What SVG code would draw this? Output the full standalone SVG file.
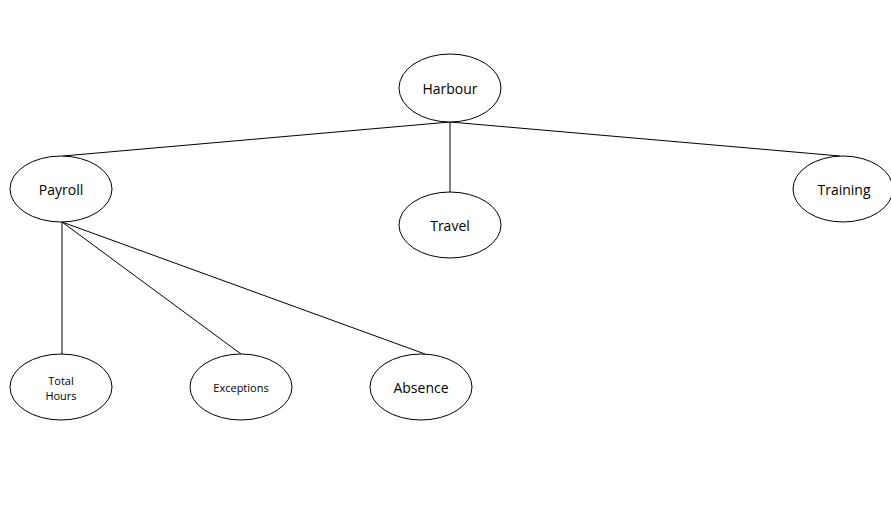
<svg xmlns="http://www.w3.org/2000/svg" width="891" height="518" viewBox="0 0 891 518">
<style>
.n ellipse{fill:#fff;stroke:#000;stroke-width:1}
.n text{font-family:"Open Sans","Liberation Sans",sans-serif;font-size:14px;fill:#000;text-anchor:middle;dominant-baseline:central}
.n text.s{font-size:11px}
#edges line{stroke:#000;stroke-width:1}
</style>
<rect width="891" height="518" fill="#fff"/>
<g id="edges">
<line x1="450" y1="122" x2="63" y2="156"/>
<line x1="450" y1="122" x2="450" y2="192"/>
<line x1="450" y1="122" x2="840" y2="156"/>
<line x1="62" y1="222" x2="62" y2="354"/>
<line x1="62" y1="222" x2="241" y2="354"/>
<line x1="62" y1="222" x2="425" y2="354"/>
</g>
<g id="harbour" class="n"><ellipse cx="450" cy="88" rx="51" ry="34"/><text x="450" y="88">Harbour</text></g>
<g id="payroll" class="n"><ellipse cx="61" cy="189" rx="51" ry="33"/><text x="61" y="189">Payroll</text></g>
<g id="travel" class="n"><ellipse cx="450" cy="225" rx="51" ry="33"/><text x="450" y="225">Travel</text></g>
<g id="training" class="n"><ellipse cx="843" cy="189" rx="50" ry="33"/><text x="844" y="189">Training</text></g>
<g id="total-hours" class="n"><ellipse cx="61" cy="387" rx="51" ry="33"/><text class="s" x="61" y="380">Total</text><text class="s" x="61" y="395">Hours</text></g>
<g id="exceptions" class="n"><ellipse cx="241" cy="387" rx="51" ry="33"/><text class="s" x="241" y="387">Exceptions</text></g>
<g id="absence" class="n"><ellipse cx="421" cy="387" rx="51" ry="33"/><text x="421" y="387">Absence</text></g>
</svg>
